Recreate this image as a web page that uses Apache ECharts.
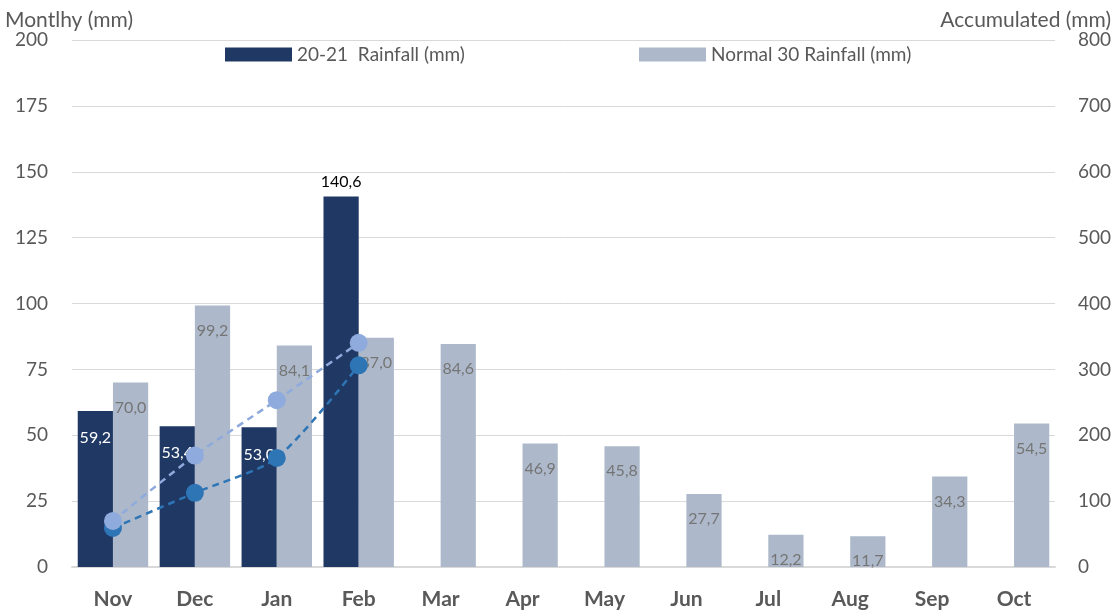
<!DOCTYPE html>
<html>
<head>
<meta charset="utf-8">
<script src="https://cdn.jsdelivr.net/npm/echarts@6/dist/echarts.min.js"></script>
<style>
html,body{margin:0;padding:0;background:#fff;}
#chart{width:1120px;height:612px;}
</style>
</head>
<body>
<div id="chart"></div>
<script>
const months = ['Nov','Dec','Jan','Feb','Mar','Apr','May','Jun','Jul','Aug','Sep','Oct'];
const rain2021 = [59.2, 53.4, 53.0, 140.6, null, null, null, null, null, null, null, null];
const rainNormal = [70.0, 99.2, 84.1, 87.0, 84.6, 46.9, 45.8, 27.7, 12.2, 11.7, 34.3, 54.5];
const accum2021 = [59.2, 112.6, 165.6, 306.2];
const accumNormal = [70.0, 169.2, 253.3, 340.3];
const leftTicks = [0, 25, 50, 75, 100, 125, 150, 175, 200];
const rightTicks = [0, 100, 200, 300, 400, 500, 600, 700, 800];

const FONT = 'Lato, "Open Sans", sans-serif';
const fmt = v => v.toFixed(1).replace('.', ',');

const legendCommon = {
  top: 40,
  itemWidth: 67,
  itemHeight: 14,
  itemGap: 8,
  textStyle: {fontSize: 19, color: '#595959', fontFamily: FONT, padding: [0, 0, 0, 0]}
};

const chart = echarts.init(document.getElementById('chart'));
chart.setOption({
  animation: false,
  textStyle: {fontFamily: FONT},
  title: [
    {text: 'Montlhy (mm)', left: 5, top: 10, padding: 0, textStyle: {fontSize: 21, fontWeight: 'normal', color: '#595959', fontFamily: FONT}},
    {text: 'Accumulated (mm)', right: 9, top: 10, padding: 0, textStyle: {fontSize: 21, fontWeight: 'normal', color: '#595959', fontFamily: FONT}}
  ],
  legend: [
    Object.assign({}, legendCommon, {left: 220, data: [{name: '20-21  Rainfall (mm)', icon: 'rect'}]}),
    Object.assign({}, legendCommon, {left: 634, data: [{name: 'Normal 30 Rainfall (mm)', icon: 'rect'}]})
  ],
  grid: {left: 72, right: 65, top: 40, bottom: 45},
  xAxis: {
    type: 'category',
    data: months,
    axisTick: {show: false},
    axisLine: {lineStyle: {color: '#D9D9D9', width: 2}},
    axisLabel: {fontSize: 21, fontWeight: 'bold', color: '#595959', margin: 22, fontFamily: FONT}
  },
  yAxis: [
    {
      type: 'value', min: leftTicks[0], max: leftTicks[leftTicks.length - 1], interval: 25,
      axisLabel: {fontSize: 19, color: '#595959', margin: 24, fontFamily: FONT},
      splitLine: {lineStyle: {color: '#D9D9D9', width: 1}},
      axisLine: {show: false}, axisTick: {show: false}
    },
    {
      type: 'value', min: rightTicks[0], max: rightTicks[rightTicks.length - 1], interval: 100,
      axisLabel: {fontSize: 19, color: '#595959', margin: 23, fontFamily: FONT},
      splitLine: {show: false},
      axisLine: {show: false}, axisTick: {show: false}
    }
  ],
  series: [
    {
      name: '20-21  Rainfall (mm)',
      type: 'bar',
      data: rain2021.map((v, i) => i === 3 ? {value: v, label: {position: 'top', distance: 7, color: '#000000', fontSize: 16}} : v),
      barGap: '0%',
      barCategoryGap: '14%',
      itemStyle: {color: '#203864'},
      label: {
        show: true, position: 'insideTop', distance: 19, color: '#FFFFFF', fontSize: 16,
        fontFamily: FONT, formatter: p => p.value == null ? '' : fmt(p.value)
      },
      z: 1
    },
    {
      name: 'Normal 30 Rainfall (mm)',
      type: 'bar',
      data: rainNormal,
      itemStyle: {color: '#ADB9CA'},
      label: {
        show: true, position: 'insideTop', distance: 17, color: '#757575', fontSize: 16,
        fontFamily: FONT, formatter: p => fmt(p.value)
      },
      z: 1
    },
    {
      name: 'Accum 20-21',
      type: 'line',
      yAxisIndex: 1,
      data: accum2021,
      smooth: 0.25,
      symbol: 'circle',
      symbolSize: 18,
      itemStyle: {color: '#2E75B6'},
      lineStyle: {color: '#2E75B6', width: 2.5, type: [7, 5]},
      z: 3
    },
    {
      name: 'Accum Normal',
      type: 'line',
      yAxisIndex: 1,
      data: accumNormal,
      smooth: 0.25,
      symbol: 'circle',
      symbolSize: 18,
      itemStyle: {color: '#8FAADC'},
      lineStyle: {color: '#8FAADC', width: 2.5, type: [7, 5]},
      z: 4
    }
  ]
});
</script>
</body>
</html>
